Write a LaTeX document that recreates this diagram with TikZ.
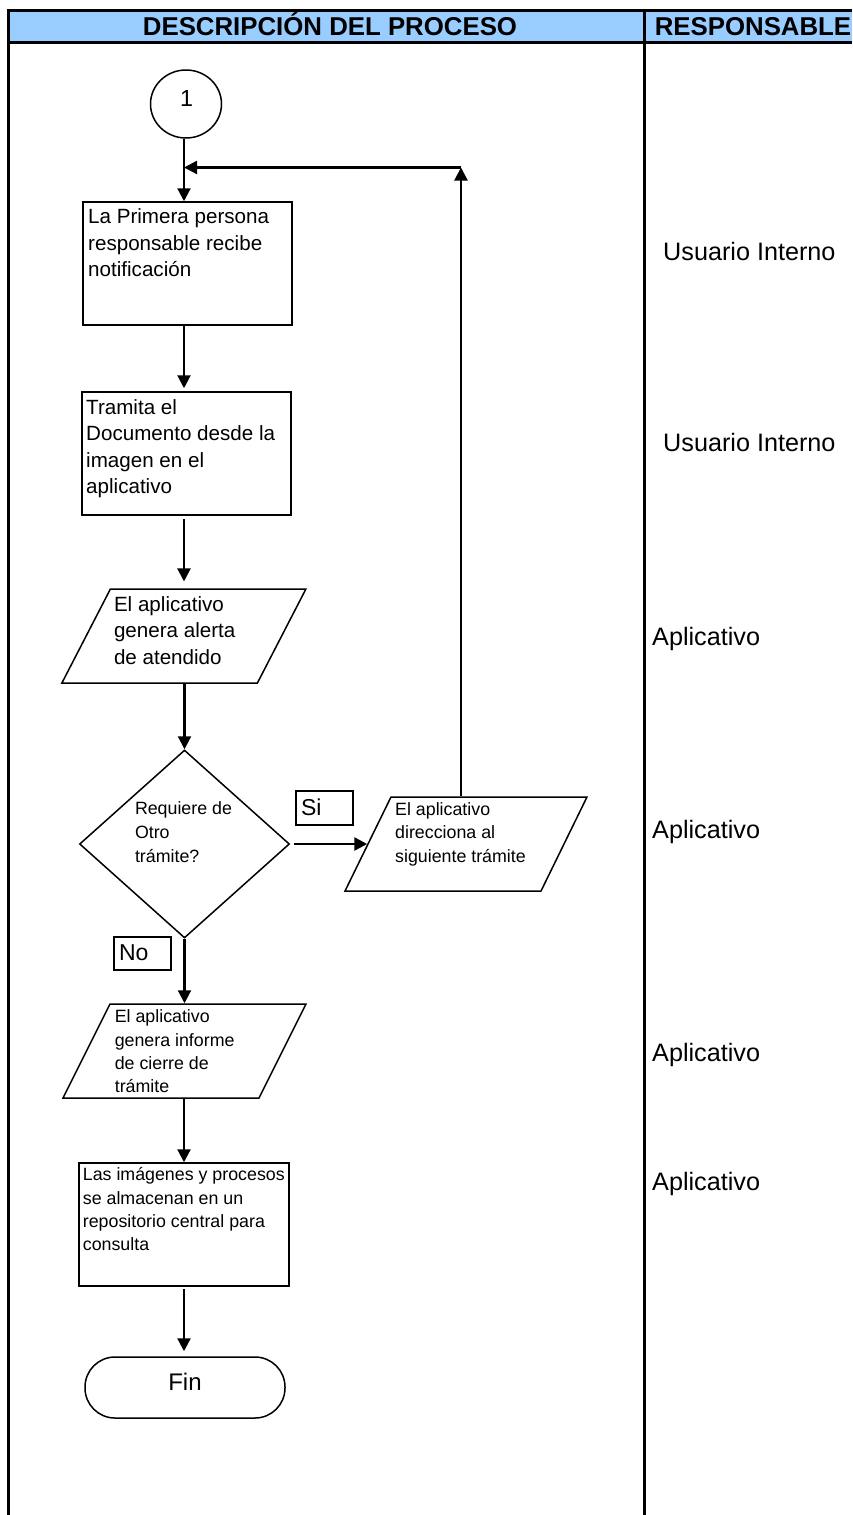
\documentclass[tikz,border=0pt]{standalone}
\usepackage{fontspec}
\setmainfont{Liberation Sans}
\usetikzlibrary{arrows.meta,shapes.geometric}
\definecolor{headblue}{HTML}{99CCFF}

\begin{document}
\begin{tikzpicture}[x=1pt,y=-1pt,
  frameline/.style={line width=3pt},
  shapeline/.style={draw, line width=1.5pt, inner sep=0pt},
  box/.style={shapeline, rectangle},
  para/.style={shapeline, rectangle, minimum height=94pt, transform shape},
  flow/.style={line width=2.2pt, -{Triangle[length=13pt,width=13pt]}},
  bigtxt/.style={font=\fontsize{20.6}{26.5}\selectfont, align=left, inner sep=0pt, anchor=north west},
  smalltxt/.style={font=\fontsize{17.8}{23.4}\selectfont, align=left, inner sep=0pt, anchor=north west},
  resp/.style={font=\fontsize{25.2}{30}\selectfont, inner sep=0pt, anchor=base west},
  headtxt/.style={font=\fontsize{25.8}{30}\selectfont\bfseries, inner sep=0pt, anchor=base},
  tag/.style={font=\fontsize{23}{27}\selectfont, inner sep=0pt, anchor=base west}
]
\useasboundingbox (0,0) rectangle (852,1515);

% table frame and header band
\fill[headblue] (8,10.7) rectangle (852,42.3);
\draw[frameline] (6.5,10.7) -- (852,10.7);
\draw[frameline] (6.5,42.3) -- (852,42.3);
\draw[frameline] (8,9.2) -- (8,1515);
\draw[frameline] (644,9.2) -- (644,1515);
\node[headtxt] (hdesc) at (330,35.5) {DESCRIPCIÓN DEL PROCESO};
\node[headtxt] (hresp) at (753,35.5) {RESPONSABLE};

% connector column
\coordinate (spine) at (184,0);
\coordinate (turn) at (461,167.5);
\coordinate (join) at (184,167.5);

% flowchart shapes
\node[shapeline, ellipse, minimum width=71pt, minimum height=68pt] (c1) at (186,104) {};
\node[font=\fontsize{23.3}{28}\selectfont, inner sep=0pt, anchor=base] (c1t) at (186.7,106.7) {1};

\node[box, minimum width=209pt, minimum height=123pt] (b1) at (187.5,263.5) {};
\node[bigtxt] (b1t) at (88,208.5) {La Primera persona\\responsable recibe\\notificación};

\node[box, minimum width=209pt, minimum height=123pt] (b2) at (186.5,453.5) {};
\node[bigtxt] (b2t) at (86,399.3) {Tramita el\\Documento desde la\\imagen en el\\aplicativo};

% input/output parallelograms: slanted rectangles centred on their own origin
\begin{scope}[shift={(183.8,636.2)}]
  \node[para, minimum width=195.5pt, xslant=0.516] (p1) at (0,0) {};
\end{scope}
\node[bigtxt] (p1t) at (113.8,596) {El aplicativo\\genera alerta\\de atendido};

\node[shapeline, diamond, minimum width=210pt, minimum height=188pt] (d) at (184.5,844) {};
\node[smalltxt, font=\fontsize{17.8}{24.2}\selectfont] (dt) at (134.8,801.3) {Requiere de\\Otro\\trámite?};

\node[box, minimum width=57pt, minimum height=34pt] (si) at (324.3,808) {};
\node[tag] (sit) at (300.8,815) {Si};

\begin{scope}[shift={(466,844)}]
  \node[para, minimum width=196pt, xslant=0.489] (p2) at (0,0) {};
\end{scope}
\node[smalltxt] (p2t) at (395,802.3) {El aplicativo\\direcciona al\\siguiente trámite};

\node[box, minimum width=57pt, minimum height=33pt] (no) at (142.5,953.5) {};
\node[tag] (not) at (118.8,960) {No};

\begin{scope}[shift={(184.5,1051)}]
  \node[para, minimum width=196pt, xslant=0.5] (p3) at (0,0) {};
\end{scope}
\node[smalltxt] (p3t) at (114.6,1009.6) {El aplicativo\\genera informe\\de cierre de\\trámite};

\node[box, minimum width=210pt, minimum height=123pt] (b3) at (184,1224.5) {};
\node[smalltxt] (b3t) at (82.7,1167.4) {Las imágenes y procesos\\se almacenan en un\\repositorio central para\\consulta};

\node[shapeline, rectangle, rounded corners=30pt, minimum width=200pt, minimum height=61pt] (fin) at (185,1387.5) {};
\node[font=\fontsize{24}{28}\selectfont, inner sep=0pt, anchor=base] (fint) at (185,1390.7) {Fin};

% responsible column
\node[resp] (r1) at (663,260.5) {Usuario Interno};
\node[resp] (r2) at (663,451.7) {Usuario Interno};
\node[resp] (r3) at (652,645) {Aplicativo};
\node[resp] (r4) at (652,838) {Aplicativo};
\node[resp] (r5) at (652,1061.7) {Aplicativo};
\node[resp] (r6) at (652,1190.7) {Aplicativo};

% connectors
\draw[flow] (c1.south -| spine) -- (b1.north -| spine);
\draw[flow, shorten >=3pt] (b1.south -| spine) -- (b2.north -| spine);
\draw[flow, shorten <=3pt, shorten >=7pt] (b2.south -| spine) -- (p1.north -| spine);
\draw[flow] (p1.south -| d.north) -- (d.north);
\draw[flow, line width=2.6pt, shorten <=4pt] (d.east) -- (p2.west);
\draw[flow] (d.south) -- (d.south |- p3.north);
\draw[flow] (p3.south -| spine) -- (b3.north -| spine);
\draw[flow, shorten <=2pt, shorten >=5pt] (b3.south -| spine) -- (fin.north -| spine);
\draw[flow] (turn |- p2.north) -- (turn);
\draw[flow] (turn) -- (join);
\end{tikzpicture}
\end{document}
